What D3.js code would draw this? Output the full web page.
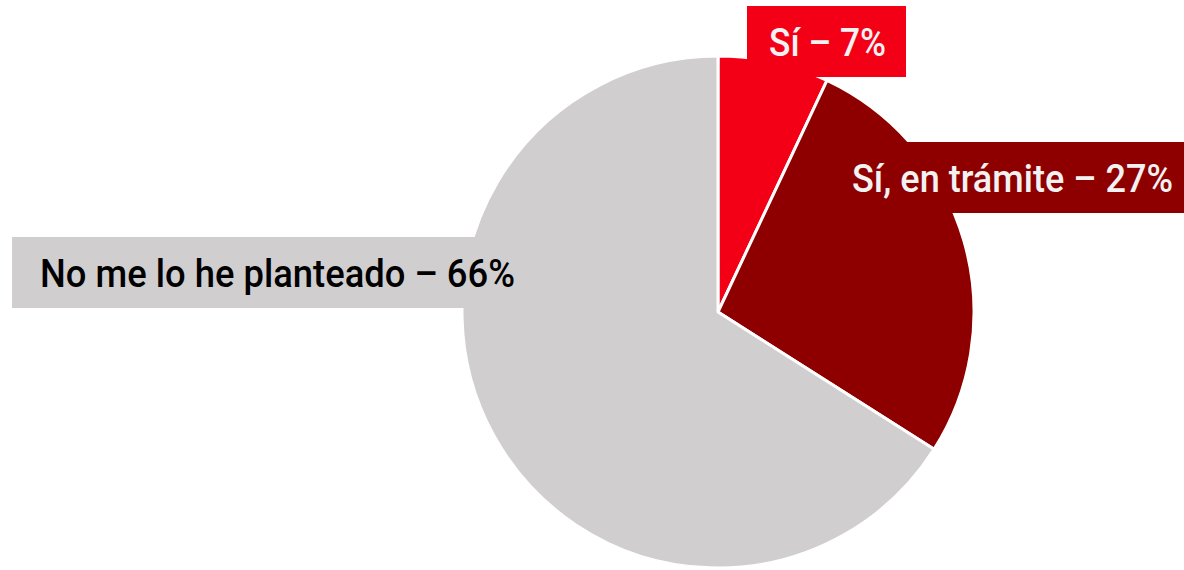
<!DOCTYPE html>
<html lang="es">
<head>
<meta charset="UTF-8">
<title>Pie</title>
<script src="https://d3js.org/d3.v7.min.js"></script>
<style>
  body { margin: 0; background: #fff; }
  text { font-family: Roboto, "DejaVu Sans Condensed", sans-serif; font-size: 38px; font-weight: 500; }
</style>
</head>
<body>
<svg width="1184" height="570"></svg>
<script>
const categories = ["Sí", "Sí, en trámite", "No me lo he planteado"];
const values = [7, 27, 66];
const labels = ["Sí – 7%", "Sí, en trámite – 27%", "No me lo he planteado – 66%"];
const colors = ["#f40016", "#8e0000", "#d0cece"];
const textColors = ["#f2f2f2", "#f2f2f2", "#000"];

// label boxes: x, y, w, h, text start, text length
const boxes = [
  { x: 747, y: 6, w: 159, h: 71, tx: 769, tl: 117 },
  { x: 838, y: 142, w: 346, h: 71, tx: 852, tl: 321 },
  { x: 12, y: 237, w: 520, h: 71, tx: 40, tl: 475 }
];

const svg = d3.select("svg");
const cx = 718, cy = 312, r = 256;

const pie = d3.pie().sort(null).value(d => d)(values);
const arc = d3.arc().innerRadius(0).outerRadius(r);

svg.append("g")
  .attr("transform", `translate(${cx},${cy})`)
  .selectAll("path")
  .data(pie)
  .join("path")
  .attr("d", arc)
  .attr("fill", (d, i) => colors[i])
  .attr("stroke", "#fff")
  .attr("stroke-width", 3)
  .attr("stroke-linejoin", "round");

const lab = svg.append("g").selectAll("g")
  .data(categories)
  .join("g");

lab.append("rect")
  .attr("x", (d, i) => boxes[i].x)
  .attr("y", (d, i) => boxes[i].y)
  .attr("width", (d, i) => boxes[i].w)
  .attr("height", (d, i) => boxes[i].h)
  .attr("fill", (d, i) => colors[i]);

lab.append("text")
  .attr("x", (d, i) => boxes[i].tx)
  .attr("y", (d, i) => boxes[i].y + boxes[i].h / 2 + 14)
  .attr("textLength", (d, i) => boxes[i].tl)
  .attr("lengthAdjust", "spacingAndGlyphs")
  .attr("fill", (d, i) => textColors[i])
  .text((d, i) => labels[i]);
</script>
</body>
</html>
